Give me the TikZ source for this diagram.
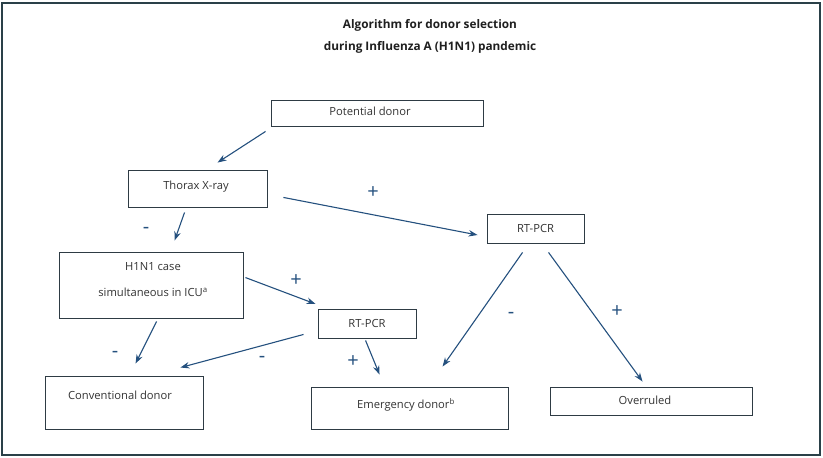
\documentclass[tikz,border=0pt]{standalone}
\usepackage{fontspec}
\setmainfont{Open Sans}
\usetikzlibrary{arrows.meta}
\definecolor{frame}{HTML}{2A4048}
\definecolor{boxc}{HTML}{2E3B44}
\definecolor{arrc}{HTML}{24507E}
\definecolor{txt}{HTML}{333333}
\begin{document}
\begin{tikzpicture}[x=1pt,y=-1pt,
  box/.style={draw=boxc,line width=0.9pt,fill=white,inner sep=0pt,text=txt,font=\fontsize{11.2}{13}\selectfont},
  lbl/.style={text=txt,font=\fontsize{11.2}{13}\selectfont},
  arr/.style={draw=arrc,line width=1.1pt,-{Stealth[length=9pt,width=6.5pt]}},
  sgn/.style={text=arrc,font=\fontsize{20}{20}\selectfont},
  ttl/.style={font=\bfseries\fontsize{11.8}{13}\selectfont,text=black!88}]
\useasboundingbox (0,0) rectangle (823,458);
\draw[frame,line width=2pt] (1.5,2.5) rectangle (820,455);
\node[ttl] (t1) at (430,25) {Algorithm for donor selection};
\node[ttl] (t2) at (430,47) {during Influenza A (H1N1) pandemic};
% boxes
\node[box,minimum width=212pt,minimum height=26pt] (pd) at (377,113) {};
\node[lbl] (pdt) at (370,111) {Potential donor};
\node[box,minimum width=139pt,minimum height=37pt] (tx) at (197.5,188.5) {};
\node[lbl] (txt1) at (196,187) {Thorax X-ray};
\node[box,minimum width=97pt,minimum height=29pt] (rr) at (535.5,228.5) {RT-PCR};
\node[box,minimum width=184pt,minimum height=66pt] (h1) at (151,285) {};
\node[lbl] (h1a) at (153,267) {H1N1 case};
\node[lbl] (h1b) at (153,292) {simultaneous in ICU\textsuperscript{a}};
\node[box,minimum width=98pt,minimum height=29pt] (rm) at (367,323.5) {RT-PCR};
\node[box,minimum width=158pt,minimum height=53pt] (cd) at (124,402.5) {};
\node[lbl] (cdt) at (120,395) {Conventional donor};
\node[box,minimum width=197pt,minimum height=42pt] (ed) at (409.5,408) {};
\node[lbl] (edt) at (406,405) {Emergency donor\textsuperscript{b}};
\node[box,minimum width=202pt,minimum height=28pt] (ov) at (651,401) {};
\node[lbl] (ovt) at (645,400) {Overruled};
% arrows
\draw[arr] ([shift={(-5,5)}]pd.south west) -- ([shift={(90,-7)}]tx.north west);
\draw[arr] ([shift={(16,-10)}]tx.south east) -- ([shift={(-9,6.5)}]rr.west);
\draw[arr] ([shift={(57,5)}]tx.south west) -- ([shift={(116,-11)}]h1.north west);
\draw[arr] ([shift={(2,26)}]h1.north east) -- ([shift={(-2,-19.5)}]rm.west);
\draw[arr] ([shift={(98,3)}]h1.south west) -- ([shift={(91,-12)}]cd.north west);
\draw[arr] ([shift={(-14,-4)}]rm.south west) -- ([shift={(-23,-8)}]cd.north east);
\draw[arr] ([shift={(48,2)}]rm.south west) -- ([shift={(69,-12)}]ed.north west);
\draw[arr] ([shift={(36,9)}]rr.south west) -- ([shift={(132,-20)}]ed.north west);
\draw[arr] ([shift={(62,9)}]rr.south west) -- ([shift={(93,-5)}]ov.north west);
% signs
\node[sgn] (s1) at (373,193) {+};
\node[sgn] (s2) at (146,230) {-};
\node[sgn] (s3) at (296,281) {+};
\node[sgn] (s4) at (115,354) {-};
\node[sgn] (s5) at (262,359) {-};
\node[sgn] (s6) at (353,362) {+};
\node[sgn] (s7) at (511,315) {-};
\node[sgn] (s8) at (617,312) {+};
\end{tikzpicture}
\end{document}
